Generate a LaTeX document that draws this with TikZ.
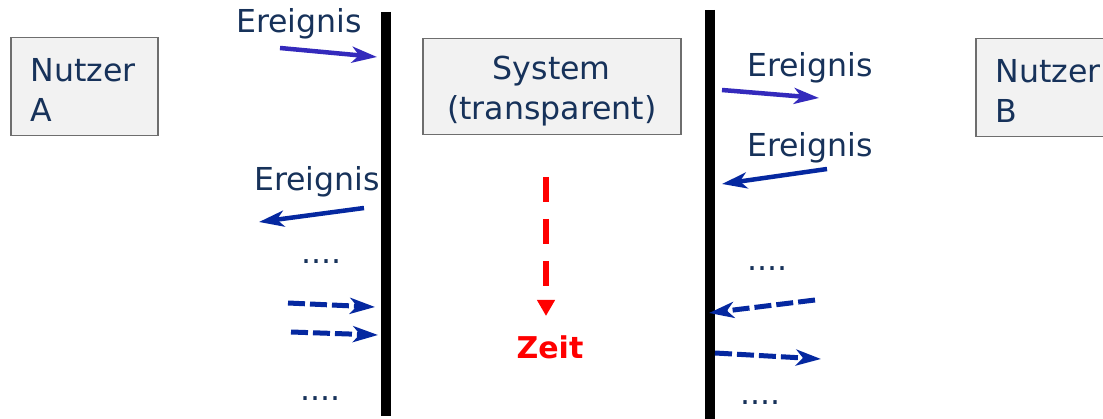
\documentclass[tikz,border=0pt]{standalone}
\usepackage{fontspec}
\setmainfont{DejaVu Sans}
\usetikzlibrary{arrows.meta}
\definecolor{navytext}{RGB}{23,50,90}
\definecolor{boxfill}{RGB}{242,242,242}
\definecolor{boxline}{RGB}{110,110,110}
\definecolor{eventviolet}{RGB}{52,42,188}
\definecolor{eventblue}{RGB}{5,40,160}
\definecolor{timered}{RGB}{255,0,0}
\newcommand{\toproom}{\rule{0pt}{30pt}}
\tikzset{
  txt/.style={font=\fontsize{31.6}{40}\selectfont, text=navytext, inner sep=0pt},
  actor/.style={draw=boxline, line width=1.5pt, fill=boxfill, txt, align=left,
    inner xsep=20pt, anchor=north west, minimum height=98pt},
  lifeline/.style={line width=10pt, black},
  sendarrow/.style={line width=4.5pt, eventviolet,
    -{Stealth[length=25pt, width=16pt, inset=7pt]}},
  recvarrow/.style={line width=4.5pt, eventblue,
    -{Stealth[length=25pt, width=16pt, inset=7pt]}},
  laterarrow/.style={line width=5pt, eventblue, dash pattern=on 17pt off 5pt,
    -{Stealth[length=25pt, width=16pt, inset=7pt]}},
  timearrow/.style={line width=6pt, timered, dash pattern=on 25pt off 17pt,
    -{Triangle[length=16pt, width=17pt]}}
}
\begin{document}
\begin{tikzpicture}[x=1pt, y=-1pt]
  \clip (0,0) rectangle (1103,419);
  \useasboundingbox (0,0) rectangle (1103,419);

  % participants
  \node[actor, text width=107pt] (userA) at (10,37) {\toproom Nutzer\\A};
  \node[actor, text width=110pt] (userB) at (975,38) {\toproom Nutzer\\B};
  \node[actor, align=center, minimum width=258pt, inner xsep=0pt,
        minimum height=96pt] (system) at (422,38) {\rule{0pt}{32pt}System\\(transparent)};

  % boundaries between users and system
  \coordinate (lt) at (386,12);  \coordinate (lb) at (386,416);
  \coordinate (rt) at (710,10);  \coordinate (rb) at (710,419);
  \draw[lifeline] (lt) -- (lb);
  \draw[lifeline] (rt) -- (rb);

  % events on the left side
  \node[txt, anchor=base west] (evA1) at (236,33) {Ereignis};
  \coordinate (a1s) at (280,48);  \coordinate (a1e) at (377,57);
  \draw[sendarrow] (a1s) -- (a1e);

  \node[txt, anchor=base west] (evA2) at (254,191) {Ereignis};
  \coordinate (a2s) at (364,208); \coordinate (a2e) at (259,222);
  \draw[recvarrow] (a2s) -- (a2e);

  \node[txt, anchor=base west] (dotsA1) at (301,264) {....};
  \coordinate (a3s) at (288,303); \coordinate (a3e) at (375,307);
  \coordinate (a4s) at (291,332); \coordinate (a4e) at (378,335);
  \draw[laterarrow] (a3s) -- (a3e);
  \draw[laterarrow] (a4s) -- (a4e);
  \node[txt, anchor=base west] (dotsA2) at (300,400) {....};

  % events on the right side
  \node[txt, anchor=base west] (evB1) at (747,77) {Ereignis};
  \coordinate (b1s) at (722,90);  \coordinate (b1e) at (819,98);
  \draw[sendarrow] (b1s) -- (b1e);

  \node[txt, anchor=base west] (evB2) at (747,157) {Ereignis};
  \coordinate (b2s) at (827,169); \coordinate (b2e) at (722,184);
  \draw[recvarrow] (b2s) -- (b2e);

  \node[txt, anchor=base west] (dotsB1) at (747,271) {....};
  \coordinate (b3s) at (815,300); \coordinate (b3e) at (709,313);
  \coordinate (b4s) at (715,353); \coordinate (b4e) at (821,359);
  \draw[laterarrow] (b3s) -- (b3e);
  \draw[laterarrow] (b4s) -- (b4e);
  \node[txt, anchor=base west] (dotsB2) at (740,405) {....};

  % time axis
  \coordinate (ts) at (546,177); \coordinate (te) at (546,316);
  \draw[timearrow] (ts) -- (te);
  \node[font=\fontsize{30}{36}\selectfont\bfseries, text=timered, inner sep=0pt,
        anchor=base] (time) at (550,359) {Zeit};
\end{tikzpicture}
\end{document}
